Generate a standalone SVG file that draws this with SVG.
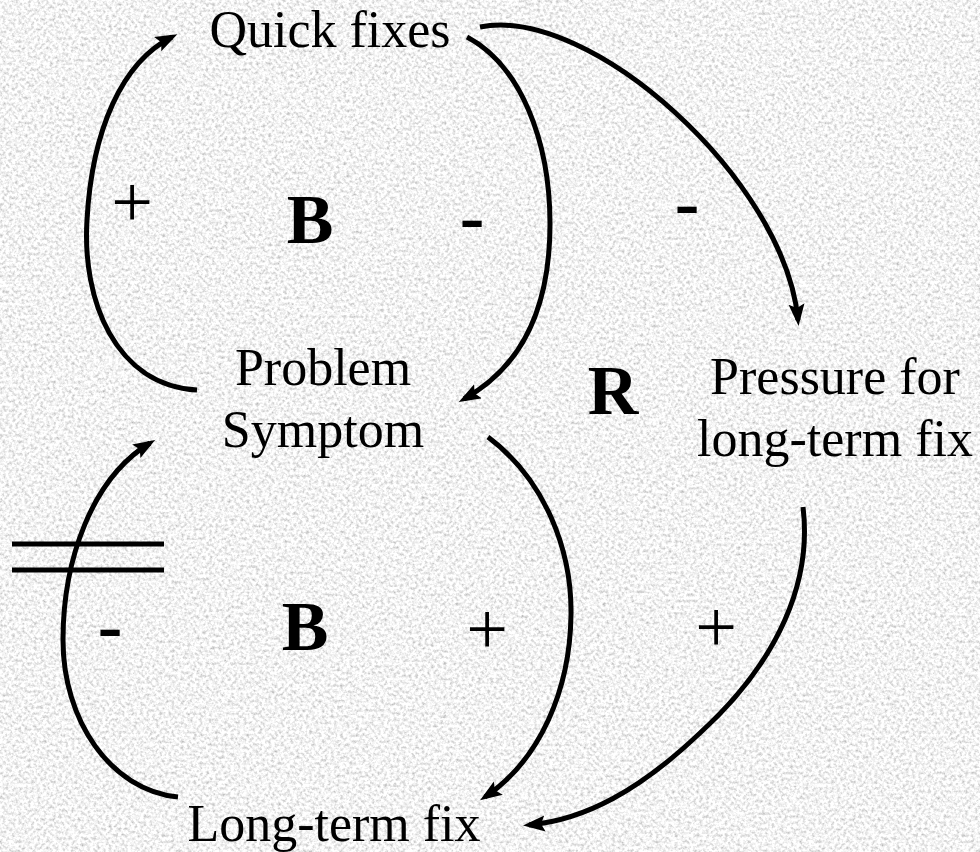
<svg xmlns="http://www.w3.org/2000/svg" width="980" height="852" viewBox="0 0 980 852">
  <defs>
    <filter id="granite" x="0" y="0" width="980" height="852" filterUnits="userSpaceOnUse">
      <feTurbulence type="fractalNoise" baseFrequency="0.32" numOctaves="3" seed="7" result="n"/>
      <feColorMatrix in="n" type="matrix" values="1 0 0 0 0.4  1 0 0 0 0.4  1 0 0 0 0.4  0 0 0 0 1"/>
    </filter>
    <marker id="arrow" markerUnits="userSpaceOnUse" markerWidth="24" markerHeight="18" refX="16" refY="8" orient="auto">
      <path d="M0,0 L22,8 L0,16 L4,8 Z" fill="#000"/>
    </marker>
    <style>
      .lbl { font-family: "Liberation Serif", "Times New Roman", serif; font-size: 52px; fill: #000; text-anchor: middle; }
      .loop { font-family: "Liberation Serif", "Times New Roman", serif; font-size: 70px; font-weight: bold; fill: #000; text-anchor: middle; }
      .sign { font-family: "Liberation Serif", "Times New Roman", serif; font-size: 74px; fill: #000; text-anchor: middle; }
      .neg { font-weight: bold; }
      .link { fill: none; stroke: #000; stroke-width: 5; marker-end: url(#arrow); }
      .plain { fill: none; stroke: #000; stroke-width: 5; }
    </style>
  </defs>

  <rect x="0" y="0" width="980" height="852" fill="#e4e4e4"/>
  <rect x="0" y="0" width="980" height="852" filter="url(#granite)"/>

  <g id="connectors">
    <path class="link" d="M197,390 C115,385 82,300 87,220 C92,130 122,62 172,37"/>
    <path class="link" d="M467,37 C520,65 550,140 550,224 C550,310 520,368 464,399"/>
    <path class="link" d="M480,27 C590,5 785,180 798,320"/>
    <path class="link" d="M178,797 C110,790 63,720 63,640 C63,560 92,478 150,443"/>
    <path class="link" d="M488,437 C545,480 572,550 571,615 C570,690 540,760 485,797"/>
    <path class="link" d="M803,507 C812,580 780,660 700,733 C640,790 585,820 529,825"/>
    <g id="delay">
      <line class="plain" x1="12" y1="544" x2="164" y2="544"/>
      <line class="plain" x1="12" y1="570" x2="164" y2="570"/>
    </g>
  </g>

  <g id="node-quick-fixes">
    <text class="lbl" x="330" y="47">Quick fixes</text>
  </g>
  <g id="node-problem-symptom">
    <text class="lbl" x="323" y="385">Problem</text>
    <text class="lbl" x="323" y="447">Symptom</text>
  </g>
  <g id="node-pressure">
    <text class="lbl" x="835" y="394">Pressure for</text>
    <text class="lbl" x="835" y="456">long-term fix</text>
  </g>
  <g id="node-long-term-fix">
    <text class="lbl" x="334" y="841">Long-term fix</text>
  </g>

  <g id="loop-labels">
    <text class="loop" x="310" y="243">B</text>
    <text class="loop" x="305" y="650">B</text>
    <text class="loop" x="613" y="414">R</text>
  </g>

  <g id="polarity">
    <text class="sign" x="132" y="227">+</text>
    <text class="sign neg" x="472" y="241">-</text>
    <text class="sign neg" x="687" y="227">-</text>
    <text class="sign neg" x="110" y="650">-</text>
    <text class="sign" x="487" y="654">+</text>
    <text class="sign" x="716" y="652">+</text>
  </g>
</svg>
